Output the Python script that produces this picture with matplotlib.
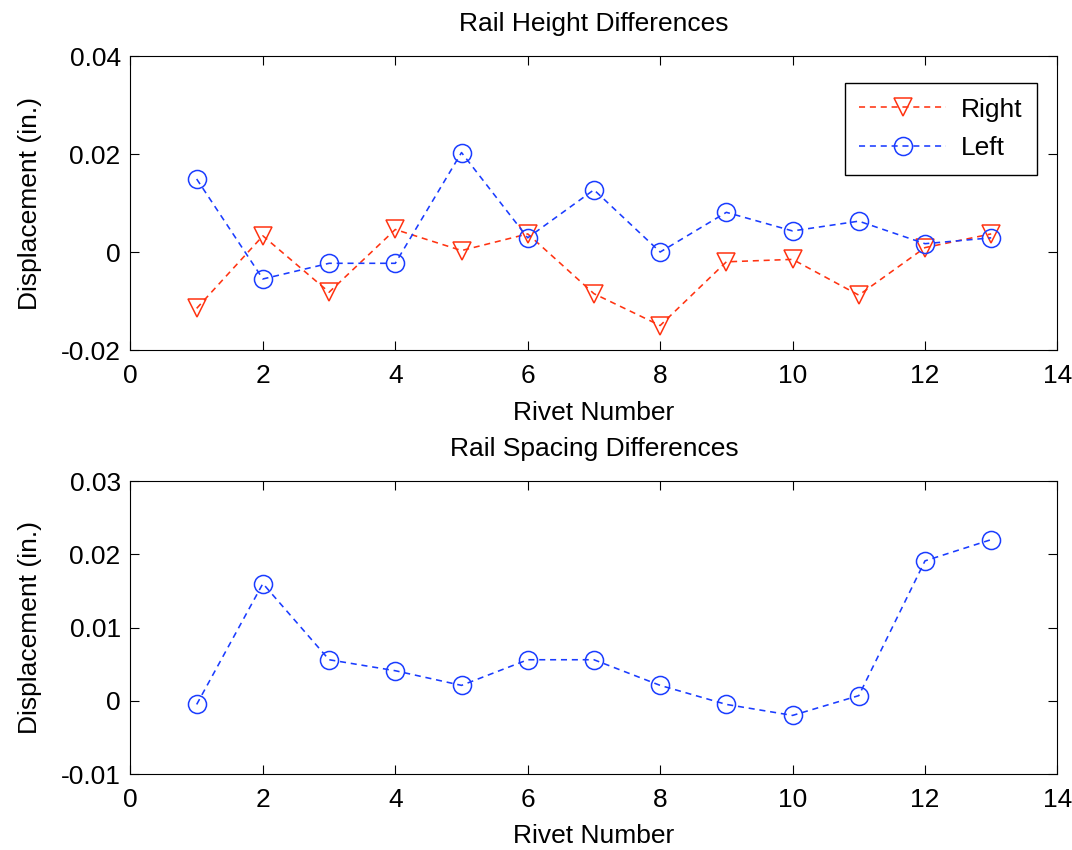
import numpy as np
import matplotlib
matplotlib.use('Agg')
import matplotlib.pyplot as plt
from matplotlib.ticker import FormatStrFormatter

plt.rcParams['font.family'] = ['Liberation Sans', 'DejaVu Sans']
plt.rcParams['font.size'] = 19
plt.rcParams['axes.unicode_minus'] = False

# data
rivet = [1, 2, 3, 4, 5, 6, 7, 8, 9, 10, 11, 12, 13]
height_right = [-0.0115, 0.0033, -0.0082, 0.0046, 0.0003, 0.0037, -0.0085,
                -0.0150, -0.0020, -0.0015, -0.0088, 0.0009, 0.0037]
height_left = [0.0149, -0.0055, -0.0023, -0.0023, 0.0203, 0.0029, 0.0127,
               0.0000, 0.0081, 0.0043, 0.0063, 0.0017, 0.0029]
spacing = [-0.0005, 0.0160, 0.0056, 0.0041, 0.0021, 0.0056, 0.0056,
           0.0021, -0.0005, -0.0020, 0.0007, 0.0191, 0.0220]

xticks = [0, 2, 4, 6, 8, 10, 12, 14]
yticks_top = [-0.02, 0, 0.02, 0.04]
yticks_bot = [-0.01, 0, 0.01, 0.02, 0.03]

red = '#ff3311'
blue = '#1a3cff'
dash = (3.8, 3.0)

fig = plt.figure(figsize=(10.72, 8.5), dpi=100)
ax1 = fig.add_axes([0.1217, 0.5882, 0.8647, 0.3459])
ax2 = fig.add_axes([0.1217, 0.0894, 0.8647, 0.3447])

l1, = ax1.plot(rivet, height_right, linestyle='--', dashes=dash, color=red, lw=1.15,
               marker='v', ms=13, mfc='none', mec=red, mew=1.1, label='Right')
l2, = ax1.plot(rivet, height_left, linestyle='--', dashes=dash, color=blue, lw=1.15,
               marker='o', ms=13, mfc='none', mec=blue, mew=1.1, label='Left')
ax2.plot(rivet, spacing, linestyle='--', dashes=dash, color=blue, lw=1.15,
         marker='o', ms=13, mfc='none', mec=blue, mew=1.1)

ax1.set_ylim(-0.02, 0.04)
ax1.set_yticks(yticks_top)
ax2.set_ylim(-0.01, 0.03)
ax2.set_yticks(yticks_bot)

ax1.set_title('Rail Height Differences', pad=18, fontsize=19)
ax2.set_title('Rail Spacing Differences', pad=18, fontsize=19)

for ax in (ax1, ax2):
    ax.set_xlim(0, 14)
    ax.set_xticks(xticks)
    ax.yaxis.set_major_formatter(FormatStrFormatter('%g'))
    ax.tick_params(direction='in', top=True, right=True, length=6.5, width=0.8)
    ax.tick_params(axis='x', pad=10)
    ax.tick_params(axis='y', pad=7)
    for s in ax.spines.values():
        s.set_linewidth(0.8)
    ax.set_xlabel('Rivet Number')
    ax.set_ylabel('Displacement (in.)')
    ax.yaxis.set_label_coords(-0.0955, 0.5)

ax1.xaxis.set_label_coords(0.5, -0.173)
ax2.xaxis.set_label_coords(0.5, -0.171)

leg = ax1.legend(loc='upper right', bbox_to_anchor=(0.978, 0.908), borderaxespad=0,
                 fancybox=False, framealpha=1, edgecolor='black', handlelength=3.3,
                 handletextpad=0.55, labelspacing=0.55, borderpad=0.55, fontsize=19)
leg.get_frame().set_linewidth(1.0)

fig.savefig('out.png', dpi=100)
